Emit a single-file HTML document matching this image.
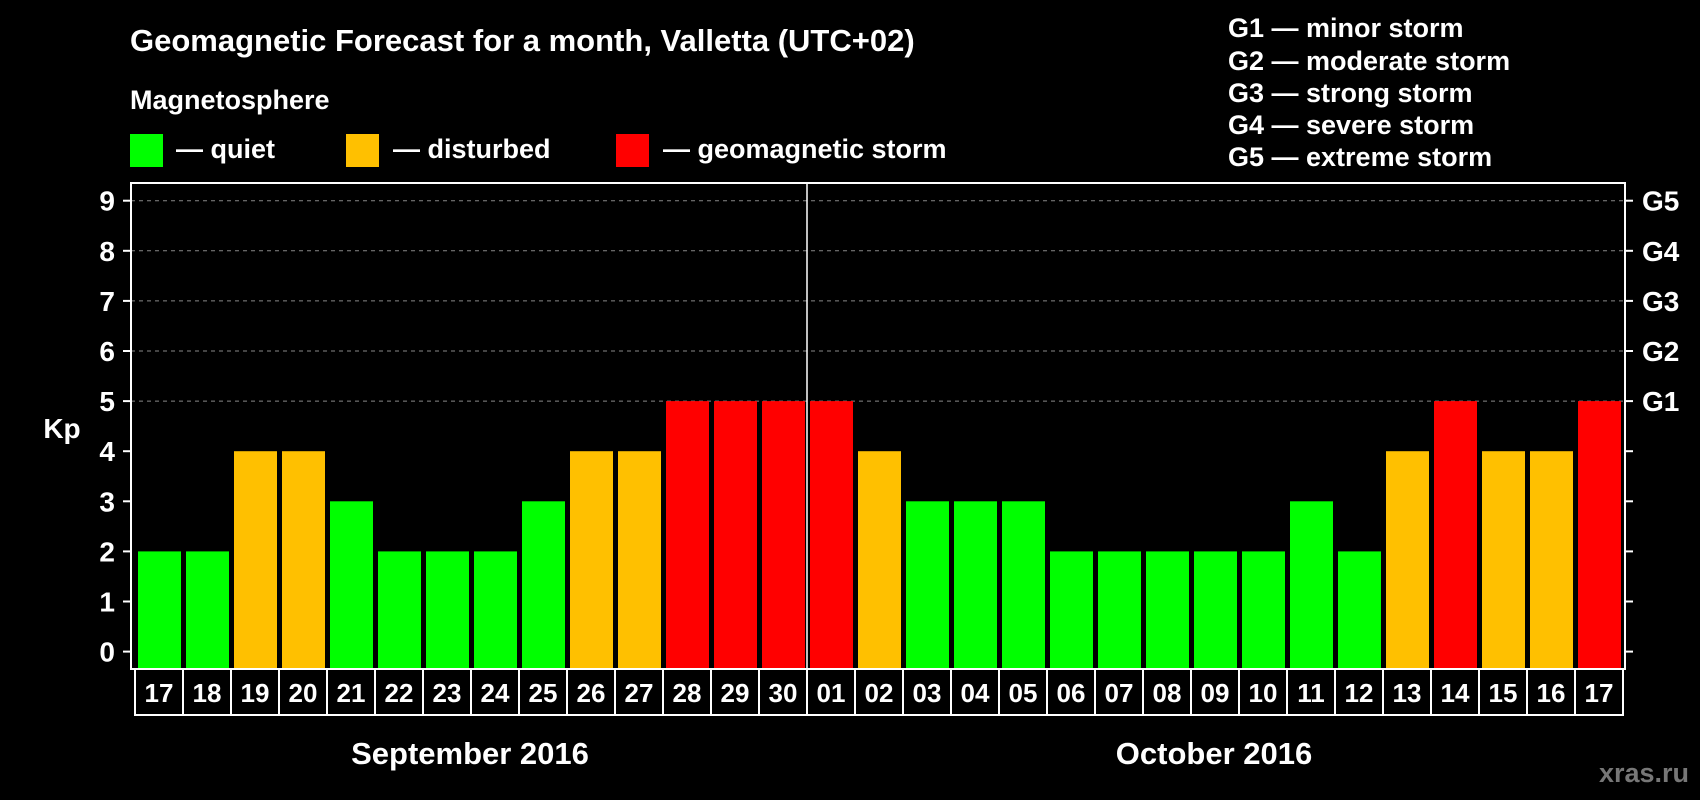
<!DOCTYPE html>
<html><head><meta charset="utf-8"><style>
body{margin:0;background:#000;width:1700px;height:800px;overflow:hidden}
svg{display:block}
text{font-family:"Liberation Sans",sans-serif;font-weight:bold;fill:#fff}
</style></head><body>
<svg id="chart" width="1700" height="800">
<text x="130" y="51" font-size="31">Geomagnetic Forecast for a month, Valletta (UTC+02)</text>
<text x="130" y="109" font-size="27">Magnetosphere</text>
<g><rect x="130" y="134" width="33" height="33" fill="#00ff00"/><text x="176" y="158" font-size="27">— quiet</text></g>
<g><rect x="346" y="134" width="33" height="33" fill="#ffc000"/><text x="393" y="158" font-size="27">— disturbed</text></g>
<g><rect x="616" y="134" width="33" height="33" fill="#ff0000"/><text x="663" y="158" font-size="27">— geomagnetic storm</text></g>
<g font-size="27">
<text x="1228" y="37">G1 — minor storm</text>
<text x="1228" y="70">G2 — moderate storm</text>
<text x="1228" y="102">G3 — strong storm</text>
<text x="1228" y="134">G4 — severe storm</text>
<text x="1228" y="166">G5 — extreme storm</text>
</g>
<text x="62" y="438" font-size="28" text-anchor="middle">Kp</text>
<g id="axes"></g>
<g id="bars"></g>
<text x="470" y="764" font-size="31" text-anchor="middle">September 2016</text>
<text x="1214" y="764" font-size="31" text-anchor="middle">October 2016</text>
<text x="1689" y="782" font-size="27" text-anchor="end" style="fill:#777">xras.ru</text>
</svg>
<script>
const days=["17","18","19","20","21","22","23","24","25","26","27","28","29","30","01","02","03","04","05","06","07","08","09","10","11","12","13","14","15","16","17"];
const kpValues=[2,2,4,4,3,2,2,2,3,4,4,5,5,5,5,4,3,3,3,2,2,2,2,2,3,2,4,5,4,4,5];
const yTicks=[0,1,2,3,4,5,6,7,8,9];
const gLabels=["G1","G2","G3","G4","G5"];
const NS="http://www.w3.org/2000/svg";
const L=131,R=1625,T=183,B=669,DB=715;
const y=v=>651.6-v*50.1;
const n=days.length;
const cellL=135,cellR=1623,cw=(cellR-cellL)/n;
const xs=i=>cellL+i*cw;
function mk(tag,at,par){const e=document.createElementNS(NS,tag);for(const k in at)e.setAttribute(k,at[k]);par.appendChild(e);return e;}
const ax=document.getElementById('axes'),bg=document.getElementById('bars');
yTicks.forEach(v=>{
 if(v>=5){const g=mk('line',{x1:L,x2:R,y1:y(v),y2:y(v),stroke:'#888','stroke-dasharray':'4,4','stroke-width':1},ax);
 
 }
 mk('line',{x1:L-8,x2:L,y1:y(v),y2:y(v),stroke:'#fff','stroke-width':2},ax);
 mk('line',{x1:R,x2:R+8,y1:y(v),y2:y(v),stroke:'#fff','stroke-width':2},ax);
 const t=mk('text',{x:115,y:y(v)+10,'font-size':28,'text-anchor':'end'},ax);t.textContent=v;
 
 
});
gLabels.forEach((g,i)=>{const t=mk('text',{x:1642,y:y(5+i)+10,'font-size':28},ax);t.textContent=g;
 
 });
kpValues.forEach((v,i)=>{
 const c=v>=5?'#ff0000':v>=4?'#ffc000':'#00ff00';
 const r=mk('rect',{x:xs(i)+3,y:y(v),width:cw-5,height:B-y(v),fill:c},bg);
 
 
 const t=mk('text',{x:xs(i)+cw/2,y:702,'font-size':26,'text-anchor':'middle'},bg);t.textContent=days[i];
 
 
 if(i>0)mk('line',{x1:xs(i),x2:xs(i),y1:B,y2:DB,stroke:'#fff','stroke-width':2},bg);
});
const fr=mk('rect',{x:L,y:T,width:R-L,height:B-T,fill:'none',stroke:'#fff','stroke-width':2},ax);


mk('rect',{x:cellL,y:B,width:cellR-cellL,height:DB-B,fill:'none',stroke:'#fff','stroke-width':2},bg);
const sepIdx=days.indexOf("01");
const d=mk('line',{x1:xs(sepIdx),x2:xs(sepIdx),y1:T,y2:B,stroke:'#fff','stroke-width':1.5},bg);


</script>
</body></html>
